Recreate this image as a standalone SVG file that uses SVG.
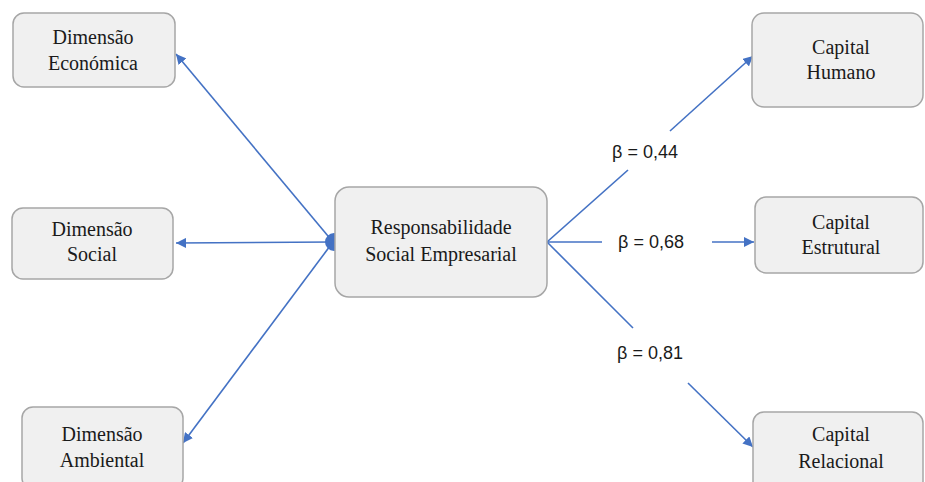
<svg xmlns="http://www.w3.org/2000/svg" width="925" height="482" viewBox="0 0 925 482">
<style>
.box{fill:#F0F0F0;stroke:#A6A6A6;stroke-width:1.5}
.t{font-family:"Liberation Serif",serif;font-size:20px;fill:#1a1a1a;text-anchor:middle}
.lbl{font-family:"Liberation Sans",sans-serif;font-size:18px;fill:#1a1a1a;text-anchor:middle}
.ln{stroke:#4472C4;stroke-width:1.6;fill:none}
</style>
<defs>
<marker id="ah" viewBox="0 0 10 10" refX="10" refY="5" markerWidth="10" markerHeight="10" markerUnits="userSpaceOnUse" orient="auto">
<path d="M0,0 L10,5 L0,10 Z" fill="#4472C4"/>
</marker>
</defs>
<g id="connectors">
<circle cx="334" cy="242" r="9" fill="#4472C4"/>
<line class="ln" x1="333" y1="242" x2="176" y2="54" marker-end="url(#ah)"/>
<line class="ln" x1="333" y1="242" x2="176" y2="243" marker-end="url(#ah)"/>
<line class="ln" x1="333" y1="242" x2="183" y2="443" marker-end="url(#ah)"/>
<line class="ln" x1="547" y1="242" x2="628" y2="170"/>
<line class="ln" x1="670" y1="131" x2="753" y2="56" marker-end="url(#ah)"/>
<line class="ln" x1="547" y1="242" x2="602" y2="242"/>
<line class="ln" x1="712" y1="242" x2="754" y2="242" marker-end="url(#ah)"/>
<line class="ln" x1="547" y1="242" x2="633" y2="328"/>
<line class="ln" x1="688" y1="383" x2="753" y2="447" marker-end="url(#ah)"/>
<text class="lbl" x="645" y="158">β = 0,44</text>
<text class="lbl" x="651" y="248">β = 0,68</text>
<text class="lbl" x="650" y="359">β = 0,81</text>
</g>
<g id="economica">
<rect class="box" x="13" y="13" width="162" height="74" rx="11"/>
<text class="t" x="93" y="44">Dimensão</text>
<text class="t" x="93" y="70">Económica</text>
</g>
<g id="social">
<rect class="box" x="12" y="208" width="161" height="71" rx="11"/>
<text class="t" x="92" y="236">Dimensão</text>
<text class="t" x="92" y="261">Social</text>
</g>
<g id="ambiental">
<rect class="box" x="22" y="407" width="161" height="82" rx="11"/>
<text class="t" x="102" y="441">Dimensão</text>
<text class="t" x="102" y="467">Ambiental</text>
</g>
<g id="rse">
<rect class="box" x="335" y="187" width="212" height="110" rx="14"/>
<text class="t" x="441" y="234">Responsabilidade</text>
<text class="t" x="441" y="261">Social Empresarial</text>
</g>
<g id="humano">
<rect class="box" x="752" y="13" width="171" height="94" rx="12"/>
<text class="t" x="841" y="54">Capital</text>
<text class="t" x="841" y="79">Humano</text>
</g>
<g id="estrutural">
<rect class="box" x="755" y="197" width="168" height="76" rx="11"/>
<text class="t" x="841" y="229">Capital</text>
<text class="t" x="841" y="254">Estrutural</text>
</g>
<g id="relacional">
<rect class="box" x="753" y="412" width="170" height="80" rx="11"/>
<text class="t" x="841" y="441">Capital</text>
<text class="t" x="841" y="468">Relacional</text>
</g>
</svg>
